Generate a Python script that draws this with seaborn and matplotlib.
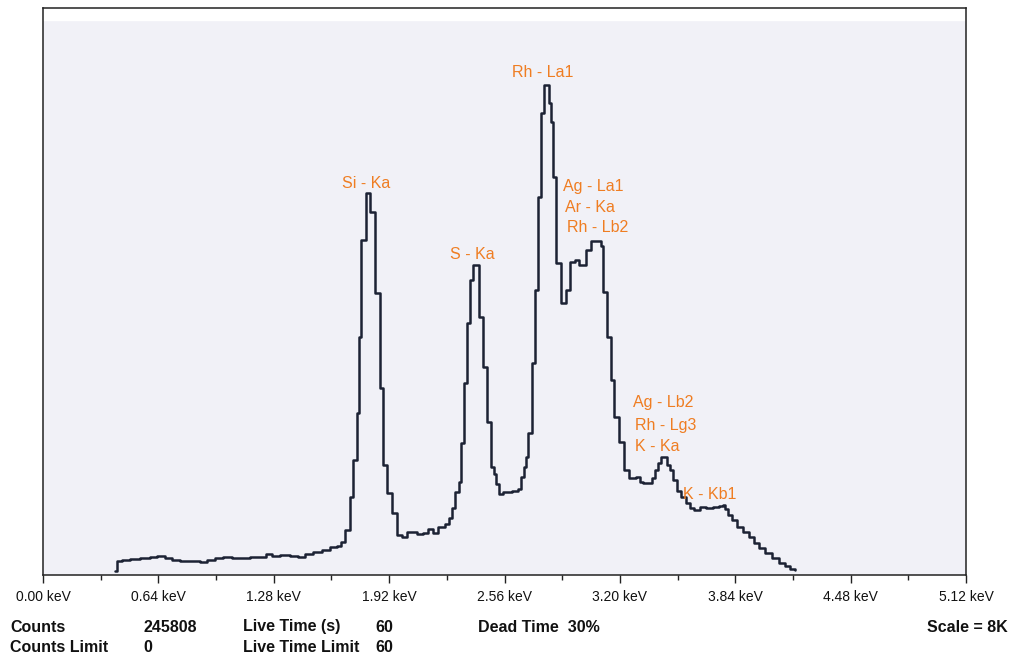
import matplotlib
matplotlib.use("Agg")
import matplotlib.pyplot as plt
from matplotlib.ticker import MultipleLocator, FuncFormatter
import seaborn as sns
import pandas as pd

# ---- data (left edge of each step, counts) ----
energy_keV = [0.399, 0.410, 0.438, 0.483, 0.538, 0.594, 0.632, 0.677, 0.716, 0.760,
              0.815, 0.871, 0.910, 0.954, 0.998, 1.048, 1.093, 1.148, 1.193, 1.237,
              1.270, 1.315, 1.370, 1.414, 1.453, 1.498, 1.548, 1.592, 1.631, 1.653,
              1.675, 1.703, 1.720, 1.742, 1.753, 1.764, 1.792, 1.814, 1.842, 1.869,
              1.886, 1.908, 1.936, 1.964, 1.991, 2.019, 2.075, 2.108, 2.136, 2.163,
              2.191, 2.230, 2.252, 2.269, 2.285, 2.308, 2.319, 2.335, 2.352, 2.369,
              2.385, 2.418, 2.441, 2.463, 2.485, 2.502, 2.513, 2.529, 2.552, 2.602,
              2.635, 2.652, 2.668, 2.679, 2.690, 2.712, 2.729, 2.746, 2.762, 2.779,
              2.807, 2.818, 2.829, 2.846, 2.873, 2.901, 2.923, 2.951, 2.973, 3.012,
              3.040, 3.073, 3.095, 3.106, 3.128, 3.151, 3.167, 3.195, 3.223, 3.251,
              3.289, 3.312, 3.328, 3.378, 3.395, 3.411, 3.428, 3.461, 3.478, 3.495,
              3.517, 3.539, 3.567, 3.589, 3.611, 3.644, 3.678, 3.716, 3.750, 3.772,
              3.783, 3.800, 3.822, 3.850, 3.883, 3.916, 3.944, 3.972, 4.005, 4.044,
              4.083, 4.116, 4.144, 4.171]
counts = [60, 198, 212, 226, 240, 254, 268, 240, 212, 198,
          198, 183, 212, 240, 254, 240, 240, 254, 254, 296,
          268, 282, 268, 254, 296, 325, 353, 395, 409, 466,
          635, 1100, 1623, 2286, 3358, 4727, 5390, 5122, 3979, 2638,
          1552, 1157, 875, 564, 536, 607, 578, 593, 649, 593,
          677, 720, 804, 945, 1171, 1312, 1862, 2709, 3555, 4162,
          4374, 3640, 2935, 2159, 1524, 1425, 1284, 1143, 1171, 1185,
          1213, 1383, 1524, 1665, 2003, 2991, 4021, 5333, 6518, 6913,
          6659, 6391, 5615, 4402, 3838, 4021, 4416, 4444, 4374, 4585,
          4712, 4712, 4642, 3993, 3358, 2751, 2229, 1876, 1481, 1369,
          1383, 1312, 1298, 1369, 1481, 1580, 1665, 1552, 1481, 1340,
          1185, 1100, 1016, 945, 917, 959, 945, 959, 974, 988,
          931, 847, 776, 677, 607, 536, 451, 381, 310, 240,
          169, 127, 85, 70]

tick_values = [0.00, 0.64, 1.28, 1.92, 2.56, 3.20, 3.84, 4.48, 5.12]

peak_labels = ["Rh - La1", "Si - Ka", "S - Ka",
               "Ag - La1", "Ar - Ka", "Rh - Lb2",
               "Ag - Lb2", "Rh - Lg3", "K - Ka", "K - Kb1"]
label_keV = [2.773, 1.792, 2.380, 2.884, 2.895, 2.906, 3.273, 3.284, 3.284, 3.550]
label_counts = [7097, 5517, 4529, 5488, 5192, 4896, 2427, 2116, 1820, 1129]
label_ha = ["center", "center", "center", "left", "left", "left",
            "left", "left", "left", "left"]

info_row1 = [("Counts", 10), ("245808", 143), ("Live Time (s)", 243), ("60", 375),
             ("Dead Time  30%", 478)]
info_row2 = [("Counts Limit", 10), ("0", 143), ("Live Time Limit", 243), ("60", 375)]

# ---- styling ----
sns.set_theme(style="white")
plt.rcParams["font.family"] = ["Liberation Sans", "DejaVu Sans"]

W, H = 1011, 656
fig = plt.figure(figsize=(W / 100, H / 100), dpi=100)
fig.patch.set_facecolor("white")
ax = fig.add_axes([43 / W, 1 - 575 / H, (966 - 43) / W, (575 - 8) / H])
ax.set_facecolor("#f1f1f7")

df = pd.DataFrame({"keV": energy_keV, "counts": counts})
sns.lineplot(data=df, x="keV", y="counts", ax=ax, drawstyle="steps-post",
             color="#1c2234", linewidth=1.8, sort=False, estimator=None)

ax.set_xlim(0, 5.12)
ax.set_ylim(0, 8000)
ax.axhspan(7830, 8000, color="white", zorder=0)

ax.set_xticks(tick_values)
ax.xaxis.set_major_formatter(FuncFormatter(lambda v, p: f"{v:.2f} keV"))
ax.xaxis.set_minor_locator(MultipleLocator(0.32))
ax.tick_params(axis="x", which="major", direction="out", length=6, width=1.0,
               color="#222222", labelsize=10, labelcolor="#111111", pad=5, bottom=True)
ax.tick_params(axis="x", which="minor", direction="out", length=3.5, width=1.0,
               color="#222222", bottom=True)
ax.set_yticks([])
ax.set_xlabel("")
ax.set_ylabel("")
for s in ax.spines.values():
    s.set_color("#222222")
    s.set_linewidth(1.1)
    s.set_visible(True)

orange = "#ef7d22"
for t, x, y, ha in zip(peak_labels, label_keV, label_counts, label_ha):
    ax.text(x, y, t, color=orange, fontsize=11.5, ha=ha, va="center")

for t, px in info_row1:
    fig.text(px / W, 1 - 627 / H, t, fontsize=11.5, fontweight="bold",
             ha="left", va="center", color="#111111")
for t, px in info_row2:
    fig.text(px / W, 1 - 647 / H, t, fontsize=11.5, fontweight="bold",
             ha="left", va="center", color="#111111")
fig.text(1008 / W, 1 - 627 / H, "Scale = 8K", fontsize=11.5, fontweight="bold",
         ha="right", va="center", color="#111111")

fig.savefig("out.png", dpi=100)
